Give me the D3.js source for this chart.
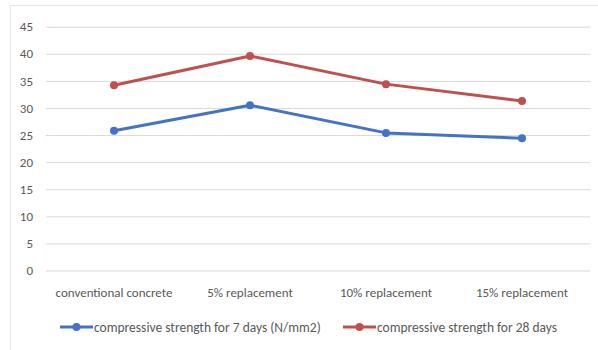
<!DOCTYPE html>
<html><head><meta charset="utf-8">
<script src="https://cdn.jsdelivr.net/npm/d3@7"></script>
<style>html,body{margin:0;padding:0;background:#fff;}svg{display:block;}</style>
</head><body>
<svg id="chart" width="598" height="350"></svg>
<script>
const categories = ["conventional concrete", "5% replacement", "10% replacement", "15% replacement"];
const series7 = [25.8, 30.5, 25.4, 24.4];
const series28 = [34.2, 39.6, 34.4, 31.3];
const seriesNames = ["compressive strength for 7 days (N/mm2)", "compressive strength for 28 days"];
const yTicks = [0, 5, 10, 15, 20, 25, 30, 35, 40, 45];

const svg = d3.select("#chart");
const font = "Carlito, Lato, 'Liberation Sans Narrow', sans-serif";
const colors = ["#4472C4", "#C0504D"];

svg.append("rect").attr("x", 10.5).attr("y", 5.5).attr("width", 620).attr("height", 400)
  .attr("fill", "#fff").attr("stroke", "#e6e6e6");

const x = d3.scaleBand().domain(categories).range([46, 590]);
const y = d3.scaleLinear().domain([0, 45]).range([270.5, 26.7]);

const yAxis = svg.append("g").attr("transform", "translate(46,0)")
  .call(d3.axisLeft(y).tickValues(yTicks).tickSize(-544).tickPadding(13));
yAxis.select(".domain").remove();
yAxis.selectAll(".tick line").attr("stroke", "#d9d9d9").attr("stroke-width", 1);
yAxis.selectAll(".tick text").attr("fill", "#595959").style("font-family", font).style("font-size", "13px");

const xAxis = svg.append("g").attr("transform", "translate(0,270.5)")
  .call(d3.axisBottom(x).tickSize(0).tickPadding(17));
xAxis.select(".domain").remove();
xAxis.selectAll(".tick text").attr("fill", "#595959").style("font-family", font).style("font-size", "13px");

[series7, series28].forEach((vals, i) => {
  const pts = vals.map((v, j) => [x(categories[j]) + x.bandwidth() / 2, y(v)]);
  svg.append("path").attr("d", d3.line()(pts)).attr("fill", "none")
    .attr("stroke", colors[i]).attr("stroke-width", 3).attr("stroke-linejoin", "round");
  svg.selectAll(null).data(pts).enter().append("circle")
    .attr("cx", d => d[0]).attr("cy", d => d[1]).attr("r", 4).attr("fill", colors[i]);
});

const legendX = [60, 343];
seriesNames.forEach((name, i) => {
  const g = svg.append("g").attr("transform", `translate(${legendX[i]},327)`);
  g.append("line").attr("x1", 0).attr("x2", 33).attr("stroke", colors[i]).attr("stroke-width", 3);
  g.append("circle").attr("cx", 16.5).attr("r", 4).attr("fill", colors[i]);
  g.append("text").attr("x", 34).attr("dy", "0.35em").attr("fill", "#595959")
    .style("font-family", font).style("font-size", "13.5px").text(name);
});
</script>
</body></html>
